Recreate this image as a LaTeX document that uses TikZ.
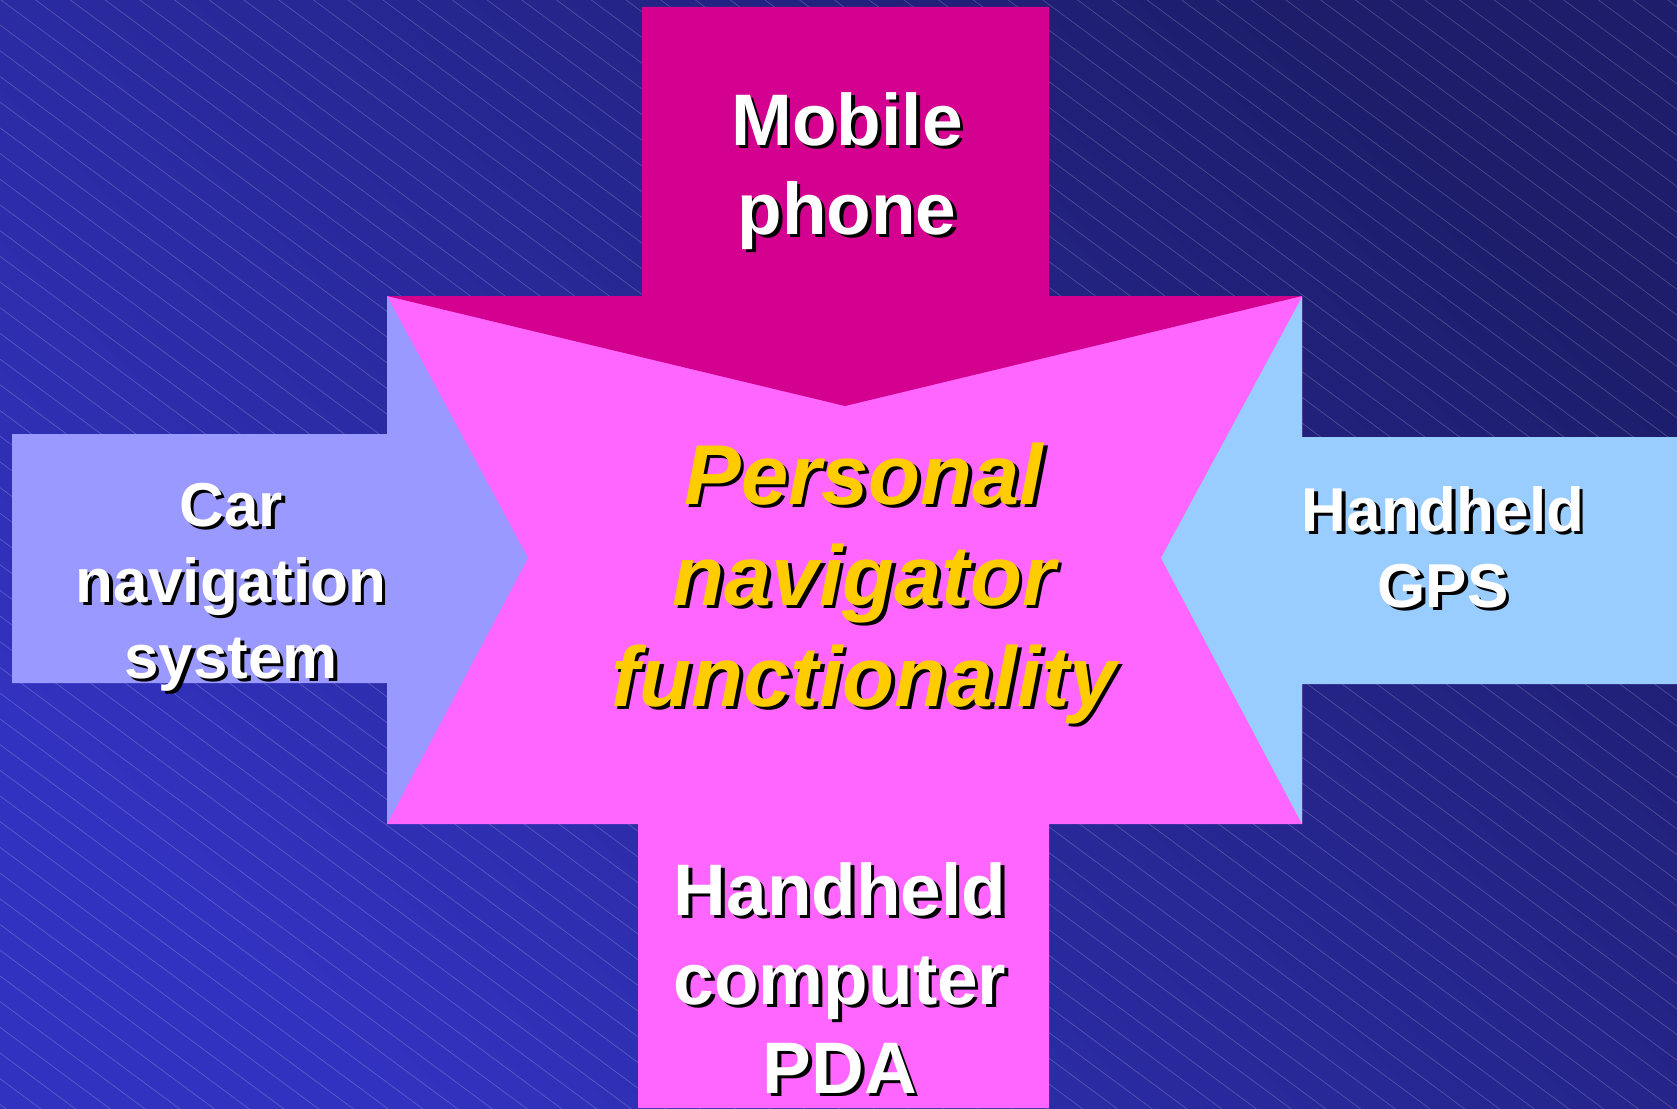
\documentclass[tikz,border=0pt]{standalone}
\usepackage{fontspec}
\setmainfont{Liberation Sans}
\usetikzlibrary{calc}

\definecolor{bgtop}{RGB}{29,29,108}
\definecolor{bgbot}{RGB}{50,50,192}
\definecolor{phonecol}{RGB}{212,0,143}
\definecolor{pdacol}{RGB}{255,102,255}
\definecolor{carcol}{RGB}{153,153,255}
\definecolor{gpscol}{RGB}{153,204,255}
\definecolor{navyellow}{RGB}{255,204,0}

\tikzset{
  bgline/.style={white, opacity=0.2, line width=0.7pt},
  lbl/.style={inner sep=0pt, anchor=base, align=center, text=white},
  bigtxt/.style={font=\bfseries\fontsize{73}{89}\selectfont},
  smalltxt/.style={font=\bfseries\fontsize{62}{76}\selectfont},
  navtxt/.style={font=\bfseries\itshape\fontsize{85}{101}\selectfont, text=navyellow},
}
% text with a black drop shadow: name, position (last baseline), style, text
\newcommand{\shadowlabel}[4]{%
  \node[lbl, #3, text=black] (#1-sh) at ($(#2)+(3.5,3.5)$) {#4};
  \node[lbl, #3] (#1) at (#2) {#4};}

\begin{document}
\begin{tikzpicture}[x=1pt, y=-1pt]
  \useasboundingbox (0,0) rectangle (1677,1108);
  % background with gradient and diagonal hairlines
  \shade[top color=bgtop, bottom color=bgbot, shading angle=-45] (0,0) rectangle (1677,1108);
  \begin{scope}
    \clip (0,0) rectangle (1677,1108);
    \foreach \k in {-50,...,43}
      \draw[bgline] (0,{25+25.7*\k}) -- (1677,{25+25.7*\k+1241});
  \end{scope}
  % arrows
  \fill[pdacol] (387,296) -- (1302,296) -- (1302,824) -- (1049,824) -- (1049,1108)
    -- (638,1108) -- (638,824) -- (387,824) -- cycle;
  \fill[phonecol] (642,7) -- (1049,7) -- (1049,296) -- (1302,296) -- (845,406)
    -- (387,296) -- (642,296) -- cycle;
  \fill[carcol] (12,434) -- (387,434) -- (387,296) -- (528,558) -- (387,824)
    -- (387,683) -- (12,683) -- cycle;
  \fill[gpscol] (1677,437) -- (1302,437) -- (1302,297) -- (1161,558) -- (1302,824)
    -- (1302,684) -- (1677,684) -- cycle;
  % labels
  \coordinate (P1) at (847,234);
  \coordinate (P2) at (231,678);
  \coordinate (P3) at (1443,607);
  \coordinate (P4) at (840,1093);
  \coordinate (P5) at (864,706);
  \shadowlabel{phone}{P1}{bigtxt}{Mobile\\phone}
  \shadowlabel{car}{P2}{smalltxt}{Car\\navigation\\system}
  \shadowlabel{gps}{P3}{smalltxt}{Handheld\\GPS}
  \shadowlabel{pda}{P4}{bigtxt}{Handheld\\computer\\PDA}
  \shadowlabel{nav}{P5}{navtxt}{Personal\\navigator\\functionality}
\end{tikzpicture}
\end{document}
